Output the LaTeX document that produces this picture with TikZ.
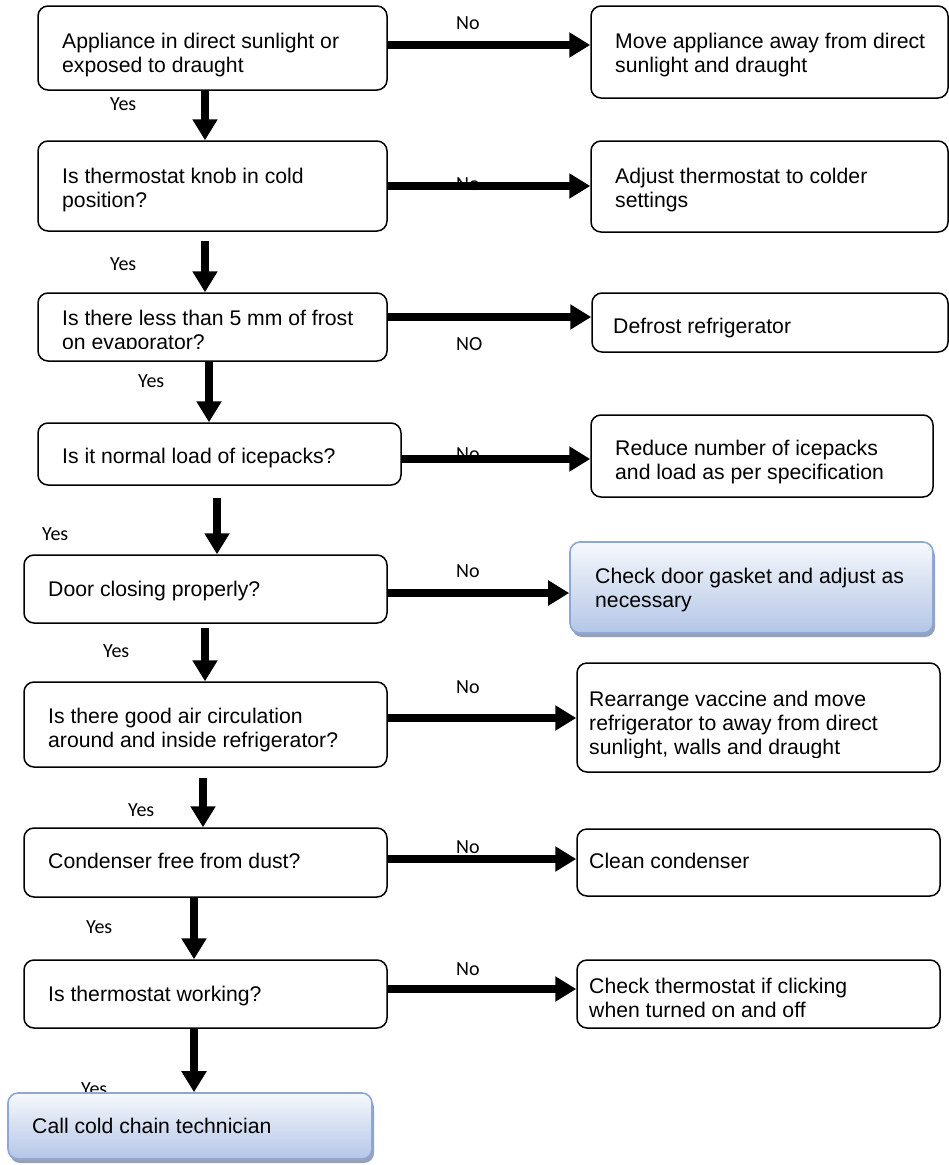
\documentclass[tikz,border=0pt]{standalone}
\usepackage{fontspec}
\setmainfont{Liberation Sans}
\newfontfamily\lblfont{Carlito}
\usetikzlibrary{arrows.meta,shadows}
\definecolor{bluetop}{RGB}{246,248,252}
\definecolor{bluebot}{RGB}{180,198,231}
\definecolor{blueline}{RGB}{140,168,216}
\definecolor{blueshadow}{RGB}{150,160,182}

\begin{document}
\begin{tikzpicture}[x=1pt,y=-1pt,
  box/.style={draw, line width=1.5pt, rounded corners=10pt, fill=white, inner sep=0pt},
  endbox/.style={draw=blueline, line width=1.6pt, rounded corners=10pt,
    top color=bluetop, bottom color=bluebot, inner sep=0pt,
    drop shadow={shadow xshift=2pt, shadow yshift=-4pt, fill=blueshadow, opacity=1}},
  txt/.style={anchor=base west, inner sep=0pt, align=left, font=\fontsize{21.2}{24}\selectfont},
  lbl/.style={anchor=base west, inner sep=0pt, font=\lblfont\fontsize{20}{24}\selectfont},
  flow/.style={line width=7.5pt, -{Triangle[width=24pt,length=21pt]}}
]
\fill[white] (0,0) rectangle (949,1165);
\useasboundingbox (0,0) rectangle (949,1165);

% Yes / No labels (drawn first, the arrows run over some of them)
\node[lbl] (y1) at (110,110) {Yes};
\node[lbl] (y2) at (110,270) {Yes};
\node[lbl] (y3) at (138,387) {Yes};
\node[lbl] (y4) at (42,540) {Yes};
\node[lbl] (y5) at (103,657) {Yes};
\node[lbl] (y6) at (128,816) {Yes};
\node[lbl] (y7) at (86,933) {Yes};
\node[lbl] (y8) at (81,1095) {Yes};

\node[lbl] (n1) at (456,29) {No};
\node[lbl] (n2) at (456,190) {No};
\node[lbl] (n3) at (456,350) {NO};
\node[lbl] (n4) at (456,460) {No};
\node[lbl] (n5) at (456,577) {No};
\node[lbl] (n6) at (456,693) {No};
\node[lbl] (n7) at (456,853) {No};
\node[lbl] (n8) at (456,975) {No};

% question boxes (left column)
\node[box, minimum width=349pt, minimum height=84pt] (q1) at (212.5,48) {};
\node[box, minimum width=349pt, minimum height=90pt] (q2) at (212.5,186) {};
\node[box, minimum width=349pt, minimum height=68pt] (q3) at (212.5,327) {};
\node[box, minimum width=363pt, minimum height=62pt] (q4) at (219.5,454) {};
\node[box, minimum width=363pt, minimum height=68pt] (q5) at (205.5,589) {};
\node[box, minimum width=363pt, minimum height=85pt] (q6) at (205.5,724.5) {};
\node[box, minimum width=363pt, minimum height=69pt] (q7) at (205.5,862.5) {};
\node[box, minimum width=363pt, minimum height=68pt] (q8) at (205.5,994) {};
\node[endbox, minimum width=364pt, minimum height=66pt] (q9) at (190,1126) {};

% action boxes (right column)
\node[box, minimum width=357pt, minimum height=92pt] (r1) at (769.5,52) {};
\node[box, minimum width=357pt, minimum height=91pt] (r2) at (769.5,186.5) {};
\node[box, minimum width=356pt, minimum height=59pt] (r3) at (770,322.5) {};
\node[box, minimum width=342pt, minimum height=82pt] (r4) at (762,456) {};
\node[endbox, minimum width=363pt, minimum height=91pt] (r5) at (751.5,587.5) {};
\node[box, minimum width=363pt, minimum height=109pt] (r6) at (758.5,717.5) {};
\node[box, minimum width=363pt, minimum height=67pt] (r7) at (758.5,862.5) {};
\node[box, minimum width=363pt, minimum height=68pt] (r8) at (758.5,994) {};

% box texts (anchored at the baseline of their last line)
\node[txt] (t1) at (62,72) {Appliance in direct sunlight or\\exposed to draught};
\node[txt] (t2) at (62,207) {Is thermostat knob in cold\\position?};
\begin{scope}
  \clip (38,293) rectangle (387,348.5);
  \node[txt] (t3) at (62,349.5) {Is there less than 5 mm of frost\\on evaporator?};
\end{scope}
\node[txt] (t4) at (62,463) {Is it normal load of icepacks?};
\node[txt] (t5) at (48,596) {Door closing properly?};
\node[txt] (t6) at (48,747) {Is there good air circulation\\around and inside refrigerator?};
\node[txt] (t7) at (48,868) {Condenser free from dust?};
\node[txt] (t8) at (48,1001) {Is thermostat working?};
\node[txt] (t9) at (32,1133) {Call cold chain technician};

\node[txt] (s1) at (615,72) {Move appliance away from direct\\sunlight and draught};
\node[txt] (s2) at (615,207) {Adjust thermostat to colder\\settings};
\node[txt] (s3) at (613,333) {Defrost refrigerator};
\node[txt] (s4) at (615,479) {Reduce number of icepacks\\and load as per specification};
\node[txt] (s5) at (595,607) {Check door gasket and adjust as\\necessary};
\begin{scope}
  \clip (577,663) rectangle (940,757);
  \node[txt] (s6) at (589,754) {Rearrange vaccine and move\\refrigerator to away from direct\\sunlight, walls and draught};
\end{scope}
\node[txt] (s7) at (589,868) {Clean condenser};
\node[txt] (s8) at (589,1017) {Check thermostat if clicking\\when turned on and off};

% "No" branches
\draw[flow] ([yshift=3pt]q1.east) -- ([yshift=3pt]q1.east -| r1.west);
\draw[flow] (q2.east) -- (q2.east -| r2.west);
\draw[flow] ([yshift=10pt]q3.east) -- ([yshift=10pt]q3.east -| r3.west);
\draw[flow] ([yshift=-5pt]q4.east) -- ([yshift=-5pt]q4.east -| r4.west);
\draw[flow] ([yshift=-4pt]q5.east) -- ([yshift=-4pt]q5.east -| r5.west);
\draw[flow] ([yshift=6.5pt]q6.east) -- ([yshift=6.5pt]q6.east -| r6.west);
\draw[flow] ([yshift=3.5pt]q7.east) -- ([yshift=3.5pt]q7.east -| r7.west);
\draw[flow] ([yshift=5pt]q8.east) -- ([yshift=5pt]q8.east -| r8.west);

% "Yes" branches
\draw[flow] ([xshift=-7.5pt]q1.south) -- ([xshift=-7.5pt]q1.south |- q2.north);
\draw[flow] ([xshift=-7.5pt,yshift=-9pt]q2.south) -- ([xshift=-7.5pt]q2.south |- q3.north);
\draw[flow] ([xshift=-3.5pt]q3.south) -- ([xshift=-3.5pt]q3.south |- q4.north);
\draw[flow] ([xshift=-2.5pt,yshift=-12pt]q4.south) -- ([xshift=-2.5pt]q4.south |- q5.north);
\draw[flow] ([xshift=-0.5pt,yshift=-4pt]q5.south) -- ([xshift=-0.5pt]q5.south |- q6.north);
\draw[flow] ([xshift=-2.5pt,yshift=-10pt]q6.south) -- ([xshift=-2.5pt]q6.south |- q7.north);
\draw[flow] ([xshift=-11.5pt]q7.south) -- ([xshift=-11.5pt]q7.south |- q8.north);
\draw[flow] ([xshift=-11.5pt]q8.south) -- ([xshift=-11.5pt]q8.south |- q9.north);
\end{tikzpicture}
\end{document}
